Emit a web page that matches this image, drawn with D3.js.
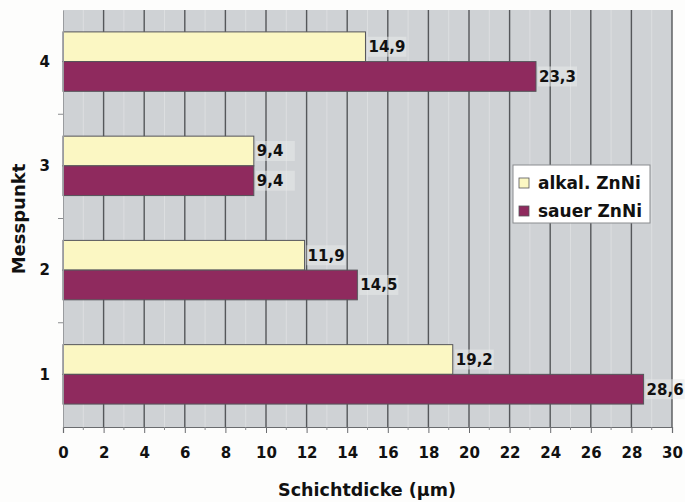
<!DOCTYPE html>
<html>
<head>
<meta charset="utf-8">
<script src="https://cdn.jsdelivr.net/npm/d3@7/dist/d3.min.js"></script>
<style>
  html, body { margin: 0; padding: 0; background: #fdfdfc; }
  svg { display: block; font-family: "DejaVu Sans", Arial, sans-serif; }
</style>
</head>
<body>
<svg id="chart" width="685" height="502"></svg>
<script>
// Measuring points (top to bottom) and coating thickness per process
const categories = ["4", "3", "2", "1"];
const seriesNames = ["alkal. ZnNi", "sauer ZnNi"];
const alkalValues = [14.9, 9.4, 11.9, 19.2];
const sauerValues = [23.3, 9.4, 14.5, 28.6];
const xTicks = [0, 2, 4, 6, 8, 10, 12, 14, 16, 18, 20, 22, 24, 26, 28, 30];
const colors = ["#fbf7c3", "#8f2a5e"];

const FONT = "'DejaVu Sans', Arial, sans-serif";
const svg = d3.select("#chart");
const margin = { left: 63, right: 13, top: 10, bottom: 75 };
const W = 685, H = 502;
const plotW = W - margin.left - margin.right;
const plotH = H - margin.top - margin.bottom;

const x = d3.scaleLinear().domain([0, 30]).range([0, plotW]);
const y = d3.scaleBand().domain(categories).range([0, plotH]).paddingInner(0).paddingOuter(0);
const inner = d3.scaleBand().domain(seriesNames).range([y.bandwidth() * 0.21, y.bandwidth() * 0.78]);

const g = svg.append("g").attr("transform", `translate(${margin.left},${margin.top})`);

// plot background
g.append("rect").attr("width", plotW).attr("height", plotH).attr("fill", "#cfd2d5");

// faint lines at odd values
g.append("g").selectAll("line").data(d3.range(1, 30, 2)).join("line")
  .attr("x1", d => x(d)).attr("x2", d => x(d))
  .attr("y1", 0).attr("y2", plotH)
  .attr("stroke", "#dcdee0").attr("stroke-width", 1);

// major gridlines
g.append("g").selectAll("line").data(xTicks.slice(1)).join("line")
  .attr("x1", d => x(d)).attr("x2", d => x(d))
  .attr("y1", 0).attr("y2", plotH)
  .attr("stroke", "#55575a").attr("stroke-width", 1.4);

// bars
const rows = categories.map((c, i) => ({ cat: c, vals: [alkalValues[i], sauerValues[i]] }));
const grp = g.selectAll("g.cat").data(rows).join("g")
  .attr("class", "cat")
  .attr("transform", d => `translate(0,${y(d.cat)})`);

grp.selectAll("rect").data(d => d.vals.map((v, k) => ({ v, k }))).join("rect")
  .attr("x", 0)
  .attr("y", d => inner(seriesNames[d.k]))
  .attr("width", d => x(d.v))
  .attr("height", inner.bandwidth())
  .attr("fill", d => colors[d.k])
  .attr("stroke", "#55555a")
  .attr("stroke-width", 1);

// value labels
const fmt = v => d3.format(".1f")(v).replace(".", ",");
const lbl = grp.selectAll("g.lbl").data(d => d.vals.map((v, k) => ({ v, k }))).join("g")
  .attr("class", "lbl")
  .attr("transform", d => `translate(${x(d.v) + 3},${inner(seriesNames[d.k]) + inner.bandwidth() / 2})`);
lbl.append("rect")
  .attr("x", -1).attr("y", -10).attr("width", 39).attr("height", 20)
  .attr("fill", "#e8e9ea").attr("opacity", 0.55);
lbl.append("text")
  .attr("dy", "0.36em")
  .attr("font-family", FONT)
  .attr("font-size", 15).attr("font-weight", "bold").attr("fill", "#111")
  .text(d => fmt(d.v));

// x axis
const xAxis = g.append("g").attr("transform", `translate(0,${plotH})`)
  .call(d3.axisBottom(x).tickValues(xTicks).tickSize(6).tickPadding(14).tickFormat(d3.format("d")));
xAxis.select(".domain").attr("stroke", "#6a6c6f").attr("stroke-width", 1.2);
xAxis.selectAll(".tick line").attr("stroke", "#6a6c6f");
xAxis.selectAll("text").attr("font-size", 15).attr("font-weight", "bold").attr("fill", "#111")
  .attr("font-family", FONT);
// minor ticks
xAxis.append("g").selectAll("line").data(d3.range(1, 30, 2)).join("line")
  .attr("x1", d => x(d)).attr("x2", d => x(d)).attr("y1", 0).attr("y2", 3)
  .attr("stroke", "#8a8c8f");

// y axis
const yAxis = g.append("g")
  .call(d3.axisLeft(y).tickSize(0).tickPadding(13));
yAxis.select(".domain").attr("stroke", "#9a9c9f");
yAxis.selectAll("text").attr("font-size", 15).attr("font-weight", "bold").attr("fill", "#111")
  .attr("font-family", FONT);
// category boundary ticks
g.append("g").selectAll("line").data(categories.slice(1)).join("line")
  .attr("x1", -5).attr("x2", 0)
  .attr("y1", d => y(d)).attr("y2", d => y(d))
  .attr("stroke", "#8a8c8f");

// axis titles
svg.append("text")
  .attr("x", 367).attr("y", 496)
  .attr("text-anchor", "middle").attr("font-family", FONT)
  .attr("font-size", 17.5).attr("font-weight", "bold").attr("fill", "#111")
  .text("Schichtdicke (µm)");
svg.append("text")
  .attr("transform", `translate(25,${219}) rotate(-90)`)
  .attr("text-anchor", "middle").attr("font-family", FONT)
  .attr("font-size", 18).attr("font-weight", "bold").attr("fill", "#111")
  .text("Messpunkt");

// legend
const leg = svg.append("g").attr("transform", "translate(513,165)");
leg.append("rect").attr("width", 137).attr("height", 58)
  .attr("fill", "#ffffff").attr("stroke", "#8a8c8f").attr("stroke-width", 1);
seriesNames.forEach((n, i) => {
  const row = leg.append("g").attr("transform", `translate(6,${18 + i * 28})`);
  row.append("rect").attr("x", 0).attr("y", -5).attr("width", 10).attr("height", 10)
    .attr("fill", colors[i]).attr("stroke", "#55555a").attr("stroke-width", 0.8);
  row.append("text").attr("x", 19).attr("dy", "0.36em")
    .attr("font-family", FONT)
    .attr("font-size", 17).attr("font-weight", "bold").attr("fill", "#111")
    .text(n);
});
</script>
</body>
</html>
